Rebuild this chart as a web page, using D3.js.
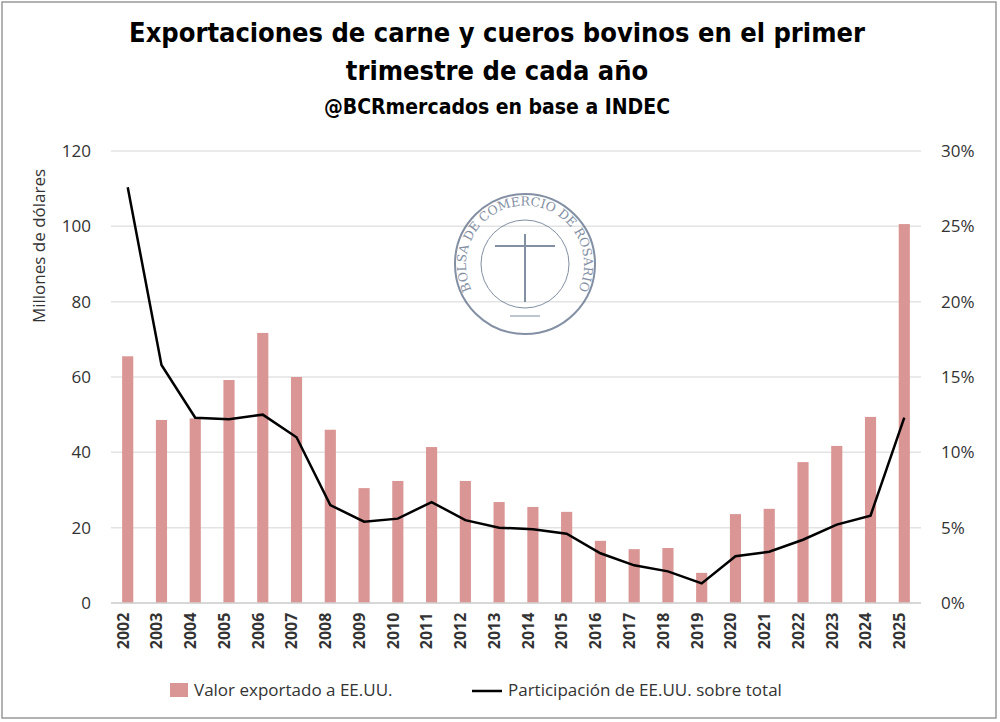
<!DOCTYPE html><html><head><meta charset="utf-8">
<script src="https://cdn.jsdelivr.net/npm/d3@7"></script>
<style>body{margin:0;background:#fff}svg{display:block}</style></head><body>
<svg id="c" width="1000" height="722"></svg>
<script>
const years=["2002","2003","2004","2005","2006","2007","2008","2009","2010","2011","2012","2013","2014","2015","2016","2017","2018","2019","2020","2021","2022","2023","2024","2025"];
const valor=[65.5,48.6,49,59.2,71.7,60,46,30.5,32.4,41.4,32.4,26.8,25.5,24.2,16.5,14.3,14.6,8,23.6,25,37.4,41.7,49.4,100.6];
const part=[27.6,15.8,12.3,12.2,12.5,11,6.5,5.4,5.6,6.7,5.5,5.0,4.9,4.6,3.3,2.5,2.1,1.3,3.1,3.4,4.2,5.2,5.8,12.3];
const leftTicks=[0,20,40,60,80,100,120];
const rightTicks=[0,5,10,15,20,25,30];
const svg=d3.select("#c");
svg.append("rect").attr("x",2).attr("y",2).attr("width",994).attr("height",716).attr("fill","#fff").attr("stroke","#999").attr("stroke-width",1.5);
const x=d3.scaleBand().domain(years).range([111,921]).paddingInner(0.67).paddingOuter(0.33);
const yL=d3.scaleLinear().domain([0,120]).range([603,151]);
const yR=d3.scaleLinear().domain([0,30]).range([603,151]);
const f="'Open Sans','DejaVu Sans',sans-serif";
svg.append("g").selectAll("line").data(leftTicks).join("line").attr("x1",111).attr("x2",921)
 .attr("y1",d=>yL(d)).attr("y2",d=>yL(d)).attr("stroke","#e3e3e3").attr("stroke-width",1.5);
// watermark
const wm=svg.append("g").attr("transform","translate(525,264)").attr("opacity",0.75);
wm.append("circle").attr("r",70).attr("fill","none").attr("stroke","#5a6a85").attr("stroke-width",2);
wm.append("circle").attr("r",44).attr("fill","none").attr("stroke","#5a6a85").attr("stroke-width",1);
wm.append("path").attr("id","arc").attr("d","M -42 42 A 59 59 0 1 1 42 42").attr("fill","none");
wm.append("text").attr("font-family","'DejaVu Serif',serif").attr("font-size",12.5).attr("fill","#5a6a85")
 .append("textPath").attr("href","#arc").attr("startOffset","50%").attr("text-anchor","middle").text("BOLSA DE COMERCIO DE ROSARIO");
wm.append("line").attr("x1",0).attr("x2",0).attr("y1",-30).attr("y2",38).attr("stroke","#5a6a85").attr("stroke-width",2);
wm.append("line").attr("x1",-30).attr("x2",30).attr("y1",-18).attr("y2",-18).attr("stroke","#5a6a85").attr("stroke-width",2);
wm.append("line").attr("x1",-15).attr("x2",15).attr("y1",52).attr("y2",52).attr("stroke","#5a6a85").attr("stroke-width",1);
// bars
svg.append("g").selectAll("rect").data(valor).join("rect")
 .attr("x",(d,i)=>x(years[i])).attr("width",x.bandwidth()).attr("y",d=>yL(d)).attr("height",d=>603-yL(d)).attr("fill","#d99694");
svg.append("path").datum(part).attr("fill","none").attr("stroke","#000").attr("stroke-width",2.5)
 .attr("d",d3.line().x((d,i)=>x(years[i])+x.bandwidth()/2).y(d=>yR(d)));
const gl=svg.append("g").attr("transform","translate(111,0)").call(d3.axisLeft(yL).tickValues(leftTicks).tickSize(0).tickPadding(20));
gl.select(".domain").remove();
gl.selectAll("text").attr("font-family",f).attr("font-size",17).attr("fill","#333");
const gr=svg.append("g").attr("transform","translate(921,0)").call(d3.axisRight(yR).tickValues(rightTicks).tickFormat(d=>d+"%").tickSize(0).tickPadding(20));
gr.select(".domain").remove();
gr.selectAll("text").attr("font-family",f).attr("font-size",17).attr("fill","#333");
svg.append("line").attr("x1",111).attr("x2",921).attr("y1",603).attr("y2",603).attr("stroke","#d0d0d0").attr("stroke-width",1.5);
const gx=svg.append("g").attr("transform","translate(0,603)").call(d3.axisBottom(x).tickSize(0).tickPadding(8));
gx.select(".domain").remove();
gx.selectAll("text").attr("font-family",f).attr("font-size",16).attr("fill","#333").attr("font-weight","bold")
 .attr("transform","rotate(-90)").attr("text-anchor","end").attr("dx","-0.6em").attr("dy","-0.45em");
svg.append("text").attr("transform","translate(45,246) rotate(-90)").attr("text-anchor","middle")
 .attr("font-family",f).attr("font-size",17).attr("fill","#333").text("Millones de dólares");
const tf="'DejaVu Sans Condensed','DejaVu Sans',sans-serif";
[["Exportaciones de carne y cueros bovinos en el primer",42,27],["trimestre de cada año",80,27],["@BCRmercados en base a INDEC",114,21]].forEach(([t,y,s])=>
 svg.append("text").attr("x",497).attr("y",y).attr("text-anchor","middle").attr("font-family",tf).attr("font-weight","bold").attr("font-size",s).attr("fill","#000").text(t));
svg.append("rect").attr("x",170).attr("y",683).attr("width",18).attr("height",14).attr("fill","#d99694");
svg.append("text").attr("x",194).attr("y",696).attr("font-family",f).attr("font-size",17).attr("fill","#333").text("Valor exportado a EE.UU.");
svg.append("line").attr("x1",472).attr("x2",502).attr("y1",691).attr("y2",691).attr("stroke","#000").attr("stroke-width",2.5);
svg.append("text").attr("x",508).attr("y",696).attr("font-family",f).attr("font-size",17).attr("fill","#333").text("Participación de EE.UU. sobre total");
</script></body></html>
